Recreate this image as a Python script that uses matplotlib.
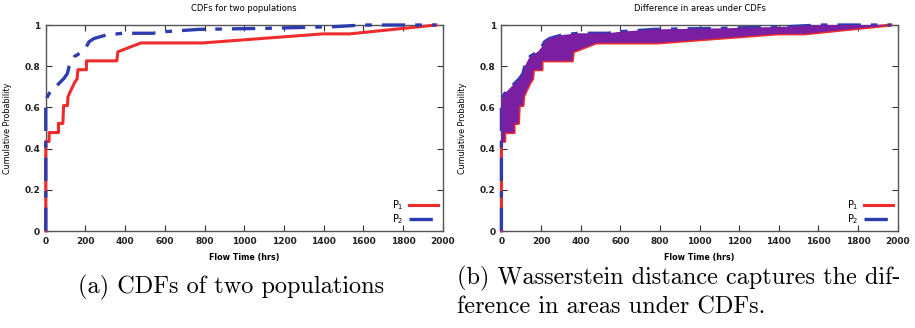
import numpy as np
import matplotlib
matplotlib.use("Agg")
import matplotlib.pyplot as plt

p1_x = [0, 0, 17, 17, 64, 64, 86, 90, 109, 112, 125, 145, 158, 162, 205, 205, 358, 363, 479, 790, 1395, 1530, 1966]
p1_y = [0, 0.435, 0.435, 0.478, 0.478, 0.522, 0.522, 0.609, 0.609, 0.652, 0.680, 0.720, 0.739, 0.783, 0.783, 0.826, 0.826, 0.870, 0.913, 0.913, 0.957, 0.957, 1.0]

# P2 empirical CDF (blue, dashed)
p2_x = [0, 0, 17, 59, 92, 109, 118, 143, 185, 205, 218, 244, 303, 387, 538, 605, 773, 1114, 1450, 1600, 1966]
p2_y = [0, 0.636, 0.668, 0.709, 0.741, 0.765, 0.800, 0.846, 0.871, 0.895, 0.919, 0.935, 0.951, 0.960, 0.960, 0.968, 0.979, 0.984, 0.992, 1.0, 1.0]

x_ticks = [0, 200, 400, 600, 800, 1000, 1200, 1400, 1600, 1800, 2000]
y_ticks = [0, 0.2, 0.4, 0.6, 0.8, 1.0]
y_ticklabels = ["0", "0.2", "0.4", "0.6", "0.8", "1"]

RED = "#ee2c2c"
BLUE = "#2d3db0"
PURPLE = "#7a1fa2"


def style_axes(ax, title):
    ax.set_xlim(0, 2000)
    ax.set_ylim(0, 1)
    ax.set_xticks(x_ticks)
    ax.set_xticklabels([str(t) for t in x_ticks], fontsize=6.5, fontweight="bold", color="#222222")
    ax.set_yticks(y_ticks)
    ax.set_yticklabels(y_ticklabels, fontsize=6.5, fontweight="bold", color="#222222")
    ax.tick_params(direction="in", length=4, width=0.8, top=True, right=True, pad=4, color="#333333")
    for s in ax.spines.values():
        s.set_color("#555555")
        s.set_linewidth(1.0)
    ax.set_title(title, fontsize=6, pad=10)
    ax.set_xlabel("Flow Time (hrs)", fontsize=5.8, fontweight="bold", labelpad=5)
    ax.set_ylabel("Cumulative Probability", fontsize=5.8, labelpad=9)


def draw_cdfs(ax):
    ax.plot(p1_x, p1_y, color=RED, lw=2.2, label="P$_1$", clip_on=False, zorder=4)
    ax.plot(p2_x, p2_y, color=BLUE, lw=2.4, dashes=(7, 3, 2, 3), label="P$_2$",
            clip_on=False, zorder=4)


fig = plt.figure(figsize=(9.15, 3.28), dpi=100)
ax1 = fig.add_axes([0.050, 0.2957, 0.434, 0.628])
ax2 = fig.add_axes([0.548, 0.2957, 0.433, 0.628])

# (a) CDFs
draw_cdfs(ax1)
style_axes(ax1, "CDFs for two populations")

# (b) area between CDFs, drawn over the lines
draw_cdfs(ax2)
ax2.fill(np.concatenate([p2_x, p1_x[::-1]]), np.concatenate([p2_y, p1_y[::-1]]),
         color=PURPLE, lw=0, zorder=5)
style_axes(ax2, "Difference in areas under CDFs")

for ax in (ax1, ax2):
    ax.legend(loc="lower right", frameon=False, markerfirst=False, fontsize=7,
              handlelength=3.0, handletextpad=0.5, labelspacing=0.0,
              borderaxespad=0.1)

# captions
fig.text(0.252, 0.125, "(a) CDFs of two populations", family="cmr10", fontsize=17.5,
         ha="center", va="center")
fig.text(0.4995, 0.152, "(b) Wasserstein distance captures the dif-", family="cmr10",
         fontsize=17.5, ha="left", va="center")
fig.text(0.4995, 0.062, "ference in areas under CDFs.", family="cmr10",
         fontsize=17.5, ha="left", va="center")

fig.savefig("out.png", dpi=100)
